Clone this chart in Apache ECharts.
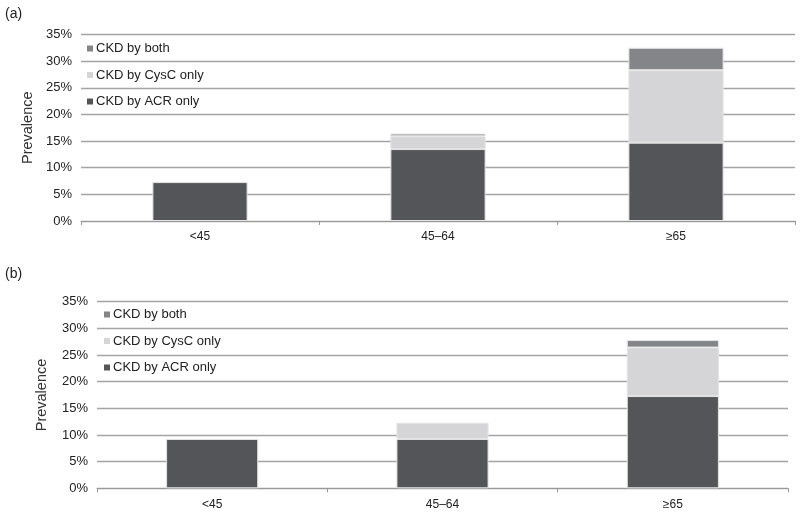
<!DOCTYPE html>
<html><head><meta charset="utf-8">
<script src="https://cdn.jsdelivr.net/npm/echarts@6/dist/echarts.min.js"></script>
<style>html,body{margin:0;padding:0;background:#fff}#c{width:800px;height:513px}</style>
</head><body><div id="c"></div>
<script>
const categories = ['<45', '45–64', '≥65'];
const seriesNames = ['CKD by ACR only', 'CKD by CysC only', 'CKD by both'];
const yTicks = [0, 5, 10, 15, 20, 25, 30, 35];
// Panel (a)
const a_acr = [7.3, 13.5, 14.7];
const a_cysc = [0, 2.4, 13.6];
const a_both = [0, 0.5, 4.2];
// Panel (b)
const b_acr = [9.25, 9.25, 17.3];
const b_cysc = [0, 3.05, 9.1];
const b_both = [0, 0, 1.4];

const colors = {'CKD by ACR only': '#545558', 'CKD by CysC only': '#d5d5d7', 'CKD by both': '#848588'};
const FONT = 'Liberation Sans';
const chart = echarts.init(document.getElementById('c'));

function xAx(gi) {
  return {type: 'category', gridIndex: gi, data: categories,
    axisLine: {lineStyle: {color: '#999', width: 1}},
    axisTick: {show: true, length: 4, lineStyle: {color: '#999'}},
    axisLabel: {color: '#222', fontSize: 12, fontFamily: FONT, margin: 10}};
}
function yAx(gi) {
  return {type: 'value', gridIndex: gi, min: 0, max: 35, interval: 5,
    name: 'Prevalence', nameLocation: 'middle', nameGap: gi === 0 ? 46 : 48, nameRotate: 90,
    nameTextStyle: {color: '#333', fontSize: 14.5, fontFamily: FONT},
    axisLine: {show: false}, axisTick: {show: false},
    axisLabel: {color: '#222', fontSize: 13, fontFamily: FONT, margin: 9,
      formatter: v => yTicks.indexOf(v) >= 0 ? v + '%' : ''},
    splitLine: {lineStyle: {color: '#a4a4a4', width: 1.3}}};
}
function ser(name, data, gi) {
  return {name: name, type: 'bar', stack: 's' + gi, xAxisIndex: gi, yAxisIndex: gi,
    data: data.map(v => v === 0 ? '-' : v), barWidth: '40%',
    itemStyle: {color: colors[name], borderColor: '#e4e4e4', borderWidth: 1},
    emphasis: {disabled: true}, animation: false};
}
const legendData = ['CKD by both', 'CKD by CysC only', 'CKD by ACR only'];
function leg(left, top) {
  return {orient: 'vertical', left: left, top: top, data: legendData, itemWidth: 6, itemHeight: 6,
    itemGap: 13.5, icon: 'rect', selectedMode: false,
    itemStyle: {borderWidth: 0},
    textStyle: {color: '#222', fontSize: 13, fontFamily: FONT, padding: [0, 0, 0, -2]}};
}
chart.setOption({
  animation: false,
  title: [
    {text: '(a)', left: 0, top: 2, textStyle: {fontSize: 14, fontWeight: 'normal', color: '#222', fontFamily: FONT}},
    {text: '(b)', left: 0, top: 262, textStyle: {fontSize: 14, fontWeight: 'normal', color: '#222', fontFamily: FONT}}
  ],
  legend: [leg(82, 37), leg(99, 303)],
  grid: [
    {left: 81, right: 5, top: 34.5, height: 186.5},
    {left: 97, right: 12, top: 301.7, height: 186.6}
  ],
  xAxis: [xAx(0), xAx(1)],
  yAxis: [yAx(0), yAx(1)],
  series: [
    ser('CKD by ACR only', a_acr, 0), ser('CKD by CysC only', a_cysc, 0), ser('CKD by both', a_both, 0),
    ser('CKD by ACR only', b_acr, 1), ser('CKD by CysC only', b_cysc, 1), ser('CKD by both', b_both, 1)
  ]
});
</script></body></html>
